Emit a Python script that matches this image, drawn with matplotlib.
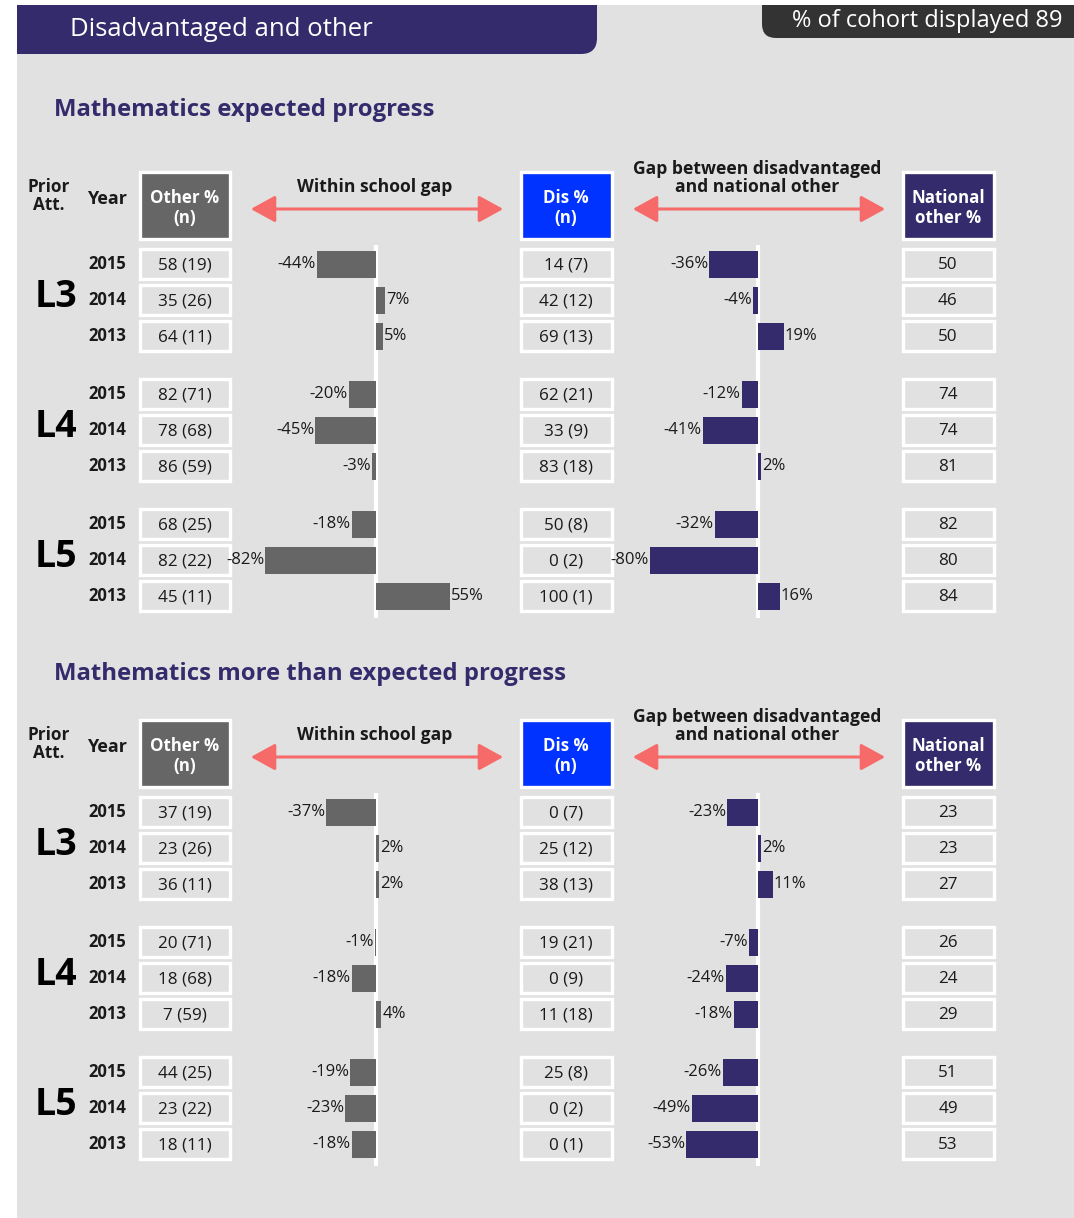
import matplotlib.pyplot as plt
from matplotlib.patches import Rectangle, PathPatch, FancyArrowPatch
from matplotlib.path import Path

plt.rcParams["font.family"] = ["Open Sans", "DejaVu Sans"]

# ---- data ----
levels = ["L3", "L4", "L5"]
years = [2015, 2014, 2013]

ep_other_pct = [58, 35, 64, 82, 78, 86, 68, 82, 45]
ep_other_n = [19, 26, 11, 71, 68, 59, 25, 22, 11]
ep_within_gap = [-44, 7, 5, -20, -45, -3, -18, -82, 55]
ep_dis_pct = [14, 42, 69, 62, 33, 83, 50, 0, 100]
ep_dis_n = [7, 12, 13, 21, 9, 18, 8, 2, 1]
ep_nat_gap = [-36, -4, 19, -12, -41, 2, -32, -80, 16]
ep_nat_other = [50, 46, 50, 74, 74, 81, 82, 80, 84]

mep_other_pct = [37, 23, 36, 20, 18, 7, 44, 23, 18]
mep_other_n = [19, 26, 11, 71, 68, 59, 25, 22, 11]
mep_within_gap = [-37, 2, 2, -1, -18, 4, -19, -23, -18]
mep_dis_pct = [0, 25, 38, 19, 0, 11, 25, 0, 0]
mep_dis_n = [7, 12, 13, 21, 9, 18, 8, 2, 1]
mep_nat_gap = [-23, 2, 11, -7, -24, -18, -26, -49, -53]
mep_nat_other = [23, 23, 27, 26, 24, 29, 51, 49, 53]

header_title = "Disadvantaged and other"
cohort_text = "% of cohort displayed 89"
section_titles = ["Mathematics expected progress",
                  "Mathematics more than expected progress"]

# ---- styling ----
BG = "#e1e1e1"
PURPLE = "#332b6b"
GREY_BAR = "#666666"
BLUE = "#0033ff"
ARROW = "#f76a6a"
TXT = "#1a1a1a"

W, H = 1074, 1218
fig = plt.figure(figsize=(W / 100, H / 100), dpi=100)
bg = fig.add_axes([0, 0, 1, 1])
bg.set_xlim(0, W)
bg.set_ylim(H, 0)
bg.axis("off")

bg.add_patch(Rectangle((17, 5), W - 17, H - 5, facecolor=BG, edgecolor="none"))


def rounded_tab(x0, x1, y0, y1, r, corner, color):
    # rectangle with a single rounded bottom corner
    if corner == "br":
        verts = [(x0, y0), (x1, y0), (x1, y1 - r), (x1, y1), (x1 - r, y1), (x0, y1), (x0, y0)]
    else:
        verts = [(x1, y0), (x1, y1), (x0 + r, y1), (x0, y1), (x0, y1 - r), (x0, y0), (x1, y0)]
    codes = [Path.MOVETO, Path.LINETO, Path.LINETO, Path.CURVE3, Path.CURVE3,
             Path.LINETO, Path.CLOSEPOLY]
    bg.add_patch(PathPatch(Path(verts, codes), facecolor=color, edgecolor="none"))


rounded_tab(17, 597, 5, 54, 16, "br", PURPLE)
bg.text(70, 29, header_title, color="white", fontsize=18.5, va="center", ha="left")
rounded_tab(762, W, 5, 38, 14, "bl", "#333333")
bg.text(1062, 21, cohort_text, color="white", fontsize=17, va="center", ha="right")

OTHER_X = (138, 231)
DIS_X = (519, 613)
NAT_X = (901, 995)
WITHIN_ZERO, GAP_ZERO, PX_PER_PCT = 376, 758, 1.35

sections = [
    dict(title=section_titles[0], title_y=110, top=170,
         other=(ep_other_pct, ep_other_n), within=ep_within_gap,
         dis=(ep_dis_pct, ep_dis_n), gap=ep_nat_gap, nat=ep_nat_other),
    dict(title=section_titles[1], title_y=674, top=718,
         other=(mep_other_pct, mep_other_n), within=mep_within_gap,
         dis=(mep_dis_pct, mep_dis_n), gap=mep_nat_gap, nat=mep_nat_other),
]


def cell(x, yc, text, h=30):
    bg.add_patch(Rectangle((x[0] + 1.5, yc - h / 2), x[1] - x[0] - 3, h,
                           facecolor="none", edgecolor="white", linewidth=2.4))
    bg.text((x[0] + x[1]) / 2, yc + 1, text, ha="center", va="center",
            fontsize=12.3, color=TXT)


def header_box(x, top, color, text):
    bg.add_patch(Rectangle((x[0] + 1.5, top + 1.5), x[1] - x[0] - 3, 67,
                           facecolor=color, edgecolor="white", linewidth=2.4))
    bg.text((x[0] + x[1]) / 2, top + 38, text, ha="center", va="center",
            fontsize=12.2, color="white", fontweight="bold", linespacing=1.2)


def bar_panel(zero_px, values, rows, color, top):
    lo, hi = -100, 100
    left = zero_px + lo * PX_PER_PCT
    ax = fig.add_axes([left / W, 0, (hi - lo) * PX_PER_PCT / W, 1])
    ax.set_xlim(lo, hi)
    ax.set_ylim(H, 0)
    ax.axis("off")
    ax.vlines(0, top + 75, rows[-1] + 22, color="white", linewidth=3, zorder=1)
    ax.barh(rows, values, height=27, color=color, zorder=2)
    for y, v in zip(rows, values):
        if v < 0:
            ax.text(v - 0.7, y, f"{v}%", ha="right", va="center", fontsize=12, color=TXT)
        else:
            ax.text(v + 0.7, y, f"{v}%", ha="left", va="center", fontsize=12, color=TXT)


for sec in sections:
    top = sec["top"]
    rows = [top + 94 + 36 * i + 22 * (i // 3) for i in range(9)]
    bg.text(54, sec["title_y"], sec["title"], color=PURPLE, fontsize=17.2,
            fontweight="bold", va="center", ha="left")

    bg.text(49, top + 26, "Prior\nAtt.", ha="center", va="center", fontsize=12.3,
            fontweight="bold", color=TXT, linespacing=0.95)
    bg.text(107, top + 29, "Year", ha="center", va="center", fontsize=13,
            fontweight="bold", color=TXT)
    header_box(OTHER_X, top, GREY_BAR, "Other %\n(n)")
    header_box(DIS_X, top, BLUE, "Dis %\n(n)")
    header_box(NAT_X, top, PURPLE, "National\nother %")

    bg.text(375, top + 17, "Within school gap", ha="center", va="center",
            fontsize=12.6, fontweight="bold", color=TXT)
    bg.text(757, top + 8, "Gap between disadvantaged\nand national other", ha="center",
            va="center", fontsize=12.6, fontweight="bold", color=TXT, linespacing=1.0)
    for x0, x1 in [(248, 506), (630, 888)]:
        bg.add_patch(FancyArrowPatch((x0, top + 39), (x1, top + 39),
                                     arrowstyle="<|-|>,head_length=1.0,head_width=0.55",
                                     mutation_scale=15, color=ARROW, linewidth=2.2))

    for i, y in enumerate(rows):
        bg.text(107, y, str(years[i % 3]), ha="center", va="center", fontsize=12,
                fontweight="bold", color=TXT)
        cell(OTHER_X, y, f"{sec['other'][0][i]} ({sec['other'][1][i]})")
        cell(DIS_X, y, f"{sec['dis'][0][i]} ({sec['dis'][1][i]})")
        cell(NAT_X, y, f"{sec['nat'][i]}")
    for g, lev in enumerate(levels):
        bg.text(56, rows[3 * g + 1] - 3, lev, ha="center", va="center", fontsize=27,
                fontweight="bold", color="black")

    bar_panel(WITHIN_ZERO, sec["within"], rows, GREY_BAR, top)
    bar_panel(GAP_ZERO, sec["gap"], rows, PURPLE, top)

fig.savefig("out.png", dpi=100)
